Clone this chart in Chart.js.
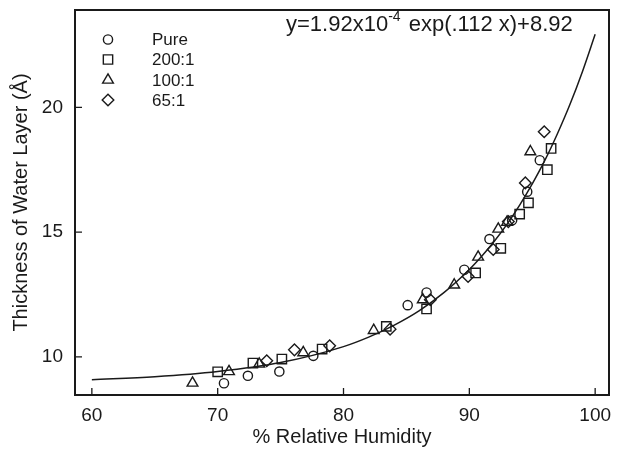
<!DOCTYPE html>
<html>
<head>
<meta charset="utf-8">
<script src="https://cdn.jsdelivr.net/npm/chart.js@4/dist/chart.umd.min.js"></script>
<style>
  html, body { margin: 0; padding: 0; background: #fff; }
  #wrap { width: 617px; height: 450px; }
</style>
</head>
<body>
<div id="wrap"><canvas id="humidityChart" width="617" height="450"></canvas></div>
<script>
// Values
const pureX = [70.5, 72.4, 74.9, 77.6, 85.1, 86.6, 89.6, 91.6, 93.4, 94.6, 95.6];
const pureY = [8.94, 9.24, 9.41, 10.04, 12.07, 12.58, 13.49, 14.72, 15.47, 16.62, 17.88];

const r200X = [70.0, 72.8, 75.1, 78.3, 83.4, 86.6, 90.5, 92.5, 94.0, 94.7, 96.2, 96.5];
const r200Y = [9.40, 9.75, 9.91, 10.31, 11.22, 11.92, 13.36, 14.35, 15.72, 16.17, 17.50, 18.35];

const r100X = [68.0, 70.9, 73.3, 76.8, 82.4, 86.3, 88.8, 90.7, 92.3, 93.0, 94.85];
const r100Y = [8.95, 9.41, 9.71, 10.17, 11.06, 12.29, 12.88, 14.00, 15.12, 15.40, 18.22];

const r65X = [73.9, 76.1, 78.9, 83.7, 86.9, 89.9, 91.9, 93.1, 94.45, 95.95];
const r65Y = [9.84, 10.28, 10.44, 11.11, 12.29, 13.22, 14.30, 15.42, 16.97, 19.02];

// fitted curve
const fitX = [60, 65, 70, 75, 80, 82, 84, 86, 88, 90, 91, 92, 93, 94, 95, 96, 97, 98, 99, 100];
const fitY = [9.08, 9.20, 9.41, 9.77, 10.41, 10.79, 11.26, 11.84, 12.58, 13.50, 14.04, 14.64, 15.32, 16.08, 16.93, 17.87, 18.94, 20.12, 21.45, 22.93];

const seriesLabels = ['Pure', '200:1', '100:1', '65:1'];
const xTicks = [60, 70, 80, 90, 100];
const yTicks = [10, 15, 20];

const FONT = "'Liberation Sans', Arial, Helvetica, sans-serif";
const INK = '#1a1a1a';

function pts(xs, ys) {
    return xs.map((v, i) => ({ x: v, y: ys[i] }));
}

function markerSet(label, xs, ys, style, radius) {
    return {
        label: label,
        data: pts(xs, ys),
        pointStyle: style,
        pointRadius: radius,
        pointHoverRadius: radius,
        pointBorderWidth: 1.4,
        borderColor: INK,
        backgroundColor: 'rgba(0,0,0,0)',
        showLine: false
    };
}

const markerSizes = [4.6, 6.6, 6.2, 5.8];
const markerStyles = ['circle', 'rect', 'triangle', 'rectRot'];

// frame, inward ticks, legend and the equation
const decorations = {
    id: 'decorations',
    afterDatasetsDraw(chart) {
        const { ctx, chartArea: a, scales: { x, y } } = chart;
        ctx.save();
        ctx.strokeStyle = INK;
        ctx.lineWidth = 2;
        ctx.strokeRect(a.left, a.top, a.right - a.left, a.bottom - a.top);

        ctx.lineWidth = 1.3;
        ctx.beginPath();
        xTicks.forEach(v => {
            const px = x.getPixelForValue(v);
            ctx.moveTo(px, a.bottom);
            ctx.lineTo(px, a.bottom - 7);
        });
        yTicks.forEach(v => {
            const py = y.getPixelForValue(v);
            ctx.moveTo(a.left, py);
            ctx.lineTo(a.left + 7, py);
        });
        ctx.stroke();

        // legend
        const rows = [39.5, 59.5, 80, 100];
        ctx.font = '17px ' + FONT;
        ctx.textBaseline = 'middle';
        seriesLabels.forEach((lab, i) => {
            ctx.fillStyle = 'rgba(0,0,0,0)';
            ctx.strokeStyle = INK;
            ctx.lineWidth = 1.4;
            Chart.helpers.drawPoint(ctx, {
                pointStyle: markerStyles[i],
                radius: markerSizes[i],
                borderWidth: 1.4,
                rotation: 0
            }, 108, rows[i]);
            ctx.fillStyle = INK;
            ctx.fillText(lab, 152, rows[i] + 1);
        });

        // equation
        ctx.fillStyle = INK;
        ctx.textBaseline = 'alphabetic';
        let tx = 286;
        const base = 31;
        ctx.font = '22px ' + FONT;
        const part1 = 'y=1.92x10';
        ctx.fillText(part1, tx, base);
        tx += ctx.measureText(part1).width;
        ctx.font = '14px ' + FONT;
        ctx.fillText('-4', tx, base - 10);
        tx += ctx.measureText('-4').width + 2;
        ctx.font = '22px ' + FONT;
        ctx.fillText(' exp(.112 x)+8.92', tx, base);
        ctx.restore();
    }
};

const config = {
    type: 'scatter',
    data: {
        datasets: [
            {
                label: 'fit',
                data: pts(fitX, fitY),
                showLine: true,
                borderColor: INK,
                borderWidth: 1.5,
                pointRadius: 0,
                pointHoverRadius: 0,
                cubicInterpolationMode: 'monotone',
                fill: false
            },
            markerSet(seriesLabels[0], pureX, pureY, markerStyles[0], markerSizes[0]),
            markerSet(seriesLabels[1], r200X, r200Y, markerStyles[1], markerSizes[1]),
            markerSet(seriesLabels[2], r100X, r100Y, markerStyles[2], markerSizes[2]),
            markerSet(seriesLabels[3], r65X, r65Y, markerStyles[3], markerSizes[3])
        ]
    },
    options: {
        responsive: false,
        animation: false,
        layout: { padding: { left: 0, right: 3, top: 10, bottom: 0 } },
        plugins: {
            legend: { display: false },
            tooltip: { enabled: false }
        },
        scales: {
            x: {
                type: 'linear',
                min: 58.66,
                max: 101.1,
                grid: { display: false },
                border: { display: false },
                afterBuildTicks: s => { s.ticks = xTicks.map(v => ({ value: v })); },
                afterFit: s => {
                    s.height = 55;
                    s.paddingLeft = 0;
                    s.paddingRight = 0;
                },
                ticks: {
                    color: INK,
                    padding: 1,
                    maxRotation: 0,
                    font: { family: FONT, size: 19 }
                },
                title: {
                    display: true,
                    text: '% Relative Humidity',
                    color: INK,
                    padding: { top: 0, bottom: 1 },
                    font: { family: FONT, size: 20 }
                }
            },
            y: {
                type: 'linear',
                min: 8.47,
                max: 23.9,
                grid: { display: false },
                border: { display: false },
                afterBuildTicks: s => { s.ticks = yTicks.map(v => ({ value: v })); },
                afterFit: s => {
                    s.width = 75;
                    s.paddingTop = 0;
                    s.paddingBottom = 0;
                },
                ticks: {
                    color: INK,
                    padding: 4,
                    font: { family: FONT, size: 19 }
                },
                title: {
                    display: true,
                    text: 'Thickness of Water Layer (Å)',
                    color: INK,
                    padding: { top: 9, bottom: 0 },
                    font: { family: FONT, size: 20 }
                }
            }
        }
    },
    plugins: [decorations]
};

window.onload = function () {
    const ctx = document.getElementById('humidityChart').getContext('2d');
    new Chart(ctx, config);
};
</script>
</body>
</html>
